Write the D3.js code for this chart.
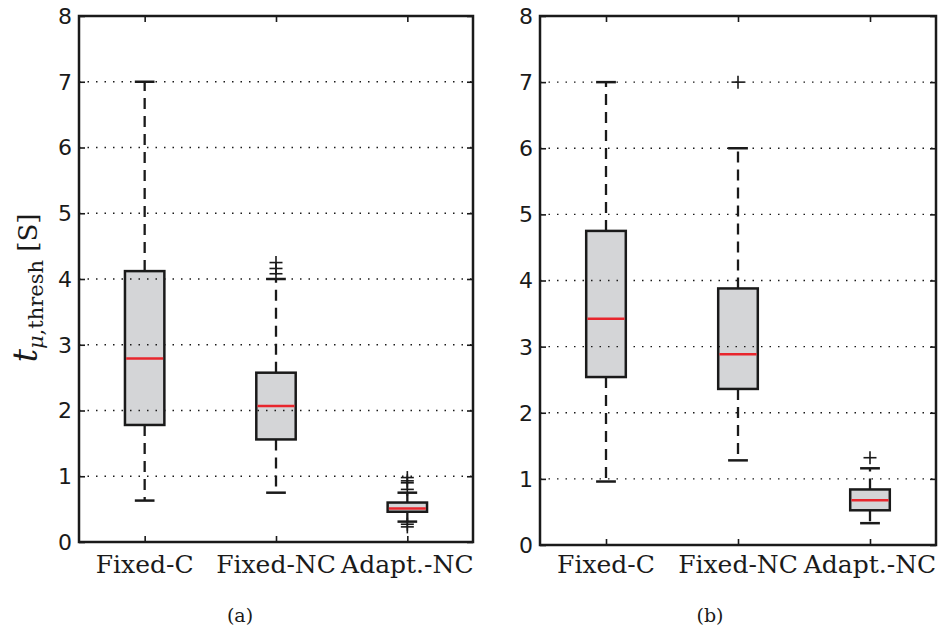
<!DOCTYPE html>
<html>
<head>
<meta charset="utf-8">
<script src="https://cdn.jsdelivr.net/npm/d3@7"></script>
<style>
  body { margin: 0; background: white; }
  svg { display: block; }
</style>
</head>
<body>
<div id="chart"></div>
<script>
const W = 939, H = 633;

const categories = ["Fixed-C", "Fixed-NC", "Adapt.-NC"];
const yTicks = [0, 1, 2, 3, 4, 5, 6, 7, 8];

// panel (a)
const aQ1 = [1.78, 1.56, 0.46];
const aMed = [2.79, 2.07, 0.51];
const aQ3 = [4.12, 2.575, 0.60];
const aLo = [0.63, 0.75, 0.31];
const aHi = [7.0, 4.0, 0.75];
const aFliers = [[], [4.08, 4.16, 4.25], [0.27, 0.23, 0.80, 0.90, 0.93, 0.98]];

// panel (b)
const bQ1 = [2.54, 2.36, 0.525];
const bMed = [3.42, 2.885, 0.675];
const bQ3 = [4.75, 3.88, 0.84];
const bLo = [0.96, 1.28, 0.33];
const bHi = [7.0, 6.0, 1.16];
const bFliers = [[], [7.0], [1.32]];

const svg = d3.select("#chart").append("svg")
    .attr("width", W).attr("height", H);

function drawPanel(box, q1, med, q3, lo, hi, fliers, label, labelX) {
    const xScale = d3.scaleLinear().domain([0.5, 3.5]).range([box.x0, box.x1]);
    const yScale = d3.scaleLinear().domain([0, 8]).range([box.y1, box.y0]);
    const g = svg.append("g");
    const ink = "#1a1a1a";
    const bw = 0.3;

    const stats = categories.map((c, i) => ({
        c, i: i + 1, q1: q1[i], med: med[i], q3: q3[i], lo: lo[i], hi: hi[i], fl: fliers[i]
    }));

    // whiskers
    g.selectAll(".whU").data(stats).enter().append("line")
        .attr("x1", d => xScale(d.i)).attr("x2", d => xScale(d.i))
        .attr("y1", d => yScale(d.q3)).attr("y2", d => yScale(d.hi))
        .attr("stroke", ink).attr("stroke-width", 2.3).attr("stroke-dasharray", "11,7");
    g.selectAll(".whL").data(stats).enter().append("line")
        .attr("x1", d => xScale(d.i)).attr("x2", d => xScale(d.i))
        .attr("y1", d => yScale(d.q1)).attr("y2", d => yScale(d.lo))
        .attr("stroke", ink).attr("stroke-width", 2.3).attr("stroke-dasharray", "11,7");

    // caps
    ["hi", "lo"].forEach(k => {
        g.selectAll(".cap" + k).data(stats).enter().append("line")
            .attr("x1", d => xScale(d.i - bw / 4)).attr("x2", d => xScale(d.i + bw / 4))
            .attr("y1", d => yScale(d[k])).attr("y2", d => yScale(d[k]))
            .attr("stroke", ink).attr("stroke-width", 2.5);
    });

    // boxes
    g.selectAll(".box").data(stats).enter().append("rect")
        .attr("x", d => xScale(d.i - bw / 2))
        .attr("width", d => xScale(d.i + bw / 2) - xScale(d.i - bw / 2))
        .attr("y", d => yScale(d.q3))
        .attr("height", d => yScale(d.q1) - yScale(d.q3))
        .attr("fill", "#d4d5d7").attr("stroke", ink).attr("stroke-width", 2.5);

    // medians
    g.selectAll(".med").data(stats).enter().append("line")
        .attr("x1", d => xScale(d.i - bw / 2) + 1.2).attr("x2", d => xScale(d.i + bw / 2) - 1.2)
        .attr("y1", d => yScale(d.med)).attr("y2", d => yScale(d.med))
        .attr("stroke", "#e8262d").attr("stroke-width", 2.5);

    // fliers
    const fl = [];
    stats.forEach(d => d.fl.forEach(v => fl.push({ i: d.i, v })));
    const pg = g.selectAll(".fl").data(fl).enter().append("g")
        .attr("transform", d => `translate(${xScale(d.i)},${yScale(d.v)})`);
    pg.append("line").attr("x1", -6.5).attr("x2", 6.5).attr("stroke", ink).attr("stroke-width", 1.6);
    pg.append("line").attr("y1", -6.5).attr("y2", 6.5).attr("stroke", ink).attr("stroke-width", 1.6);

    // dotted grid
    g.selectAll(".grid").data(yTicks.filter(t => t > 0 && t < 8)).enter().append("line")
        .attr("x1", box.x0).attr("x2", box.x1)
        .attr("y1", d => yScale(d)).attr("y2", d => yScale(d))
        .attr("stroke", ink).attr("stroke-width", 1.4).attr("stroke-dasharray", "1.5,7");

    // axes (ticks inward)
    const yAxL = g.append("g").attr("transform", `translate(${box.x0},0)`)
        .call(d3.axisRight(yScale).tickValues(yTicks).tickSize(6).tickFormat(""));
    const yAxR = g.append("g").attr("transform", `translate(${box.x1},0)`)
        .call(d3.axisLeft(yScale).tickValues(yTicks).tickSize(6).tickFormat(""));
    const xAxB = g.append("g").attr("transform", `translate(0,${box.y1})`)
        .call(d3.axisTop(xScale).tickValues([1, 2, 3]).tickSize(6).tickFormat(""));
    const xAxT = g.append("g").attr("transform", `translate(0,${box.y0})`)
        .call(d3.axisBottom(xScale).tickValues([1, 2, 3]).tickSize(6).tickFormat(""));
    [yAxL, yAxR, xAxB, xAxT].forEach(a => {
        a.select(".domain").remove();
        a.selectAll("line").attr("stroke", ink).attr("stroke-width", 1.6);
    });

    g.append("rect")
        .attr("x", box.x0).attr("y", box.y0)
        .attr("width", box.x1 - box.x0).attr("height", box.y1 - box.y0)
        .attr("fill", "none").attr("stroke", ink).attr("stroke-width", 2.5);

    // tick labels
    g.selectAll(".ylab").data(yTicks).enter().append("text")
        .attr("x", box.x0 - 7).attr("y", d => yScale(d))
        .attr("dy", "0.36em").attr("text-anchor", "end")
        .attr("font-family", "DejaVu Sans").attr("font-size", 22).attr("fill", ink)
        .text(d => d);
    g.selectAll(".xlab").data(stats).enter().append("text")
        .attr("x", d => xScale(d.i)).attr("y", 573)
        .attr("text-anchor", "middle")
        .attr("font-family", "DejaVu Serif").attr("font-size", 25).attr("fill", ink)
        .text(d => d.c);

    g.append("text").attr("x", labelX).attr("y", 622)
        .attr("text-anchor", "middle")
        .attr("font-family", "DejaVu Serif").attr("font-size", 19).attr("fill", ink)
        .text(label);
}

drawPanel({ x0: 79, x1: 473, y0: 16, y1: 542 }, aQ1, aMed, aQ3, aLo, aHi, aFliers, "(a)", 240);
drawPanel({ x0: 540, x1: 936, y0: 16, y1: 545 }, bQ1, bMed, bQ3, bLo, bHi, bFliers, "(b)", 710);

// y axis label
const yl = svg.append("text")
    .attr("transform", "translate(37,288) rotate(-90)")
    .attr("text-anchor", "middle")
    .attr("font-family", "DejaVu Serif").attr("fill", "#1a1a1a");
yl.append("tspan").attr("font-style", "italic").attr("font-size", 33).text("t");
yl.append("tspan").attr("font-size", 21).attr("dy", 6)
    .append("tspan").attr("font-style", "italic").text("μ");
yl.append("tspan").attr("font-size", 21).text(",thresh");
yl.append("tspan").attr("font-size", 26).attr("dy", -6).text("  [S]");
</script>
</body>
</html>
